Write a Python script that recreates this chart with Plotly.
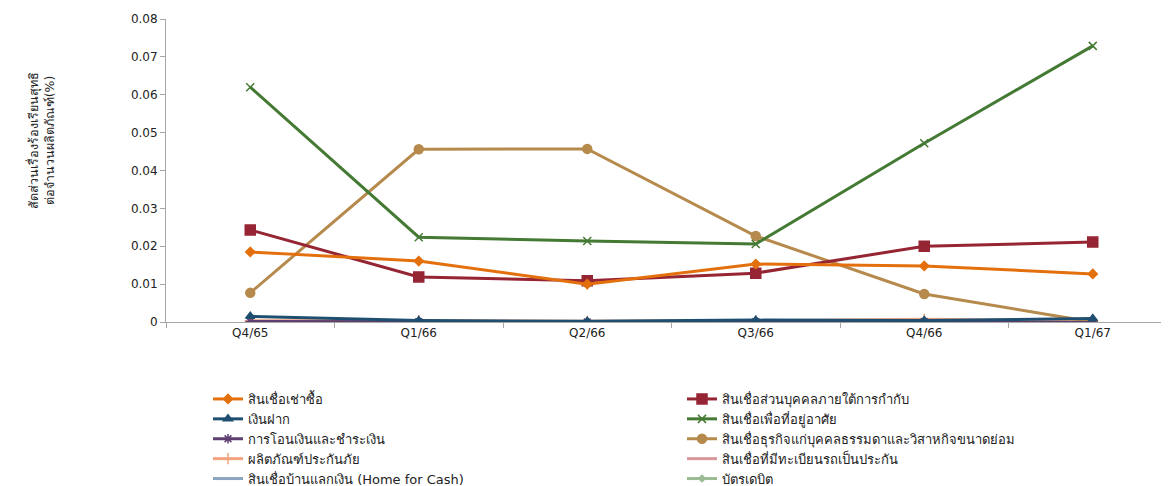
import plotly.graph_objects as go

categories = ["Q4/65", "Q1/66", "Q2/66", "Q3/66", "Q4/66", "Q1/67"]

hire_purchase = [0.0185, 0.0161, 0.0100, 0.0153, 0.0148, 0.0127]
personal_loan = [0.0243, 0.0119, 0.0109, 0.0129, 0.0200, 0.0211]
deposit = [0.0015, 0.0004, 0.0002, 0.0005, 0.0004, 0.0009]
housing = [0.0620, 0.0224, 0.0214, 0.0206, 0.0472, 0.0729]
transfer = [0.0001, 0.0001, 0.0000, 0.0001, 0.0001, 0.0000]
sme = [0.0077, 0.0456, 0.0457, 0.0227, 0.0074, 0.0000]
insurance = [0.0003, 0.0004, 0.0002, 0.0003, 0.0007, 0.0003]
car_title = [0.0000, 0.0000, 0.0000, 0.0000, 0.0000, 0.0000]
home_for_cash = [0.0000, 0.0000, 0.0000, 0.0000, 0.0000, 0.0000]
debit_card = [0.0000, 0.0000, 0.0000, 0.0000, 0.0000, 0.0000]

y_title = "สัดส่วนเรื่องร้องเรียนสุทธิ<br>ต่อจำนวนผลิตภัณฑ์(%)"

series = [
    ("สินเชื่อเช่าซื้อ", hire_purchase, "#E3700D", "diamond", 7),
    ("สินเชื่อส่วนบุคคลภายใต้การกำกับ", personal_loan, "#962534", "square", 10),
    ("เงินฝาก", deposit, "#1F4F70", "triangle-up", 8),
    ("สินเชื่อเพื่อที่อยู่อาศัย", housing, "#447A33", "x-thin-open", 8),
    ("การโอนเงินและชำระเงิน", transfer, "#5E3F70", "asterisk-open", 8),
    ("สินเชื่อธุรกิจแก่บุคคลธรรมดาและวิสาหกิจขนาดย่อม", sme, "#B68A4C", "circle", 9),
    ("ผลิตภัณฑ์ประกันภัย", insurance, "#F5A27F", "cross-thin-open", 8),
    ("สินเชื่อที่มีทะเบียนรถเป็นประกัน", car_title, "#D7979A", None, 0),
    ("สินเชื่อบ้านแลกเงิน (Home for Cash)", home_for_cash, "#8DA4BF", None, 0),
    ("บัตรเดบิต", debit_card, "#9BBB95", "diamond", 5),
]

traces = []
for name, vals, color, sym, size in series:
    if sym:
        traces.append(go.Scatter(
            x=categories, y=vals, name=name, mode="lines+markers",
            line=dict(color=color, width=3),
            marker=dict(symbol=sym, size=size, color=color,
                        line=dict(color=color, width=1.5)),
        ))
    else:
        traces.append(go.Scatter(
            x=categories, y=vals, name=name, mode="lines",
            line=dict(color=color, width=3),
        ))

# draw in reverse so the first series is on top like the reference
fig = go.Figure(data=list(reversed(traces)))

font_family = "Tahoma, DejaVu Sans, Noto Sans, sans-serif"
W, H = 1169, 486

fig.update_layout(
    width=W, height=H,
    paper_bgcolor="white", plot_bgcolor="white",
    margin=dict(l=158, r=0, t=11, b=172, autoexpand=False),
    font=dict(family=font_family, size=12, color="#222222"),
    showlegend=True,
    legend=dict(
        orientation="h", traceorder="reversed",
        x=200 / W, xref="container", y=1 - 376 / H, yref="container",
        xanchor="left", yanchor="top",
        entrywidth=429, entrywidthmode="pixels",
        itemwidth=30, tracegroupgap=0,
        font=dict(size=13, family=font_family, color="#222222"),
        bgcolor="rgba(0,0,0,0)",
    ),
    xaxis=dict(
        type="category", range=[-0.5, 5.5],
        showline=True, linecolor="#A6A6A6", linewidth=1,
        showgrid=False, zeroline=False,
        ticks="outside", ticklen=5, tickcolor="#A6A6A6",
        tickson="boundaries",
        tickfont=dict(size=12),
    ),
    yaxis=dict(
        range=[0, 0.08], dtick=0.01,
        showline=True, linecolor="#A6A6A6", linewidth=1,
        showgrid=False, zeroline=False,
        ticks="outside", ticklen=5, tickcolor="#A6A6A6",
        tickfont=dict(size=12),
    ),
    annotations=[dict(
        text=y_title, textangle=-90, showarrow=False,
        xref="paper", yref="paper",
        x=(33 - 158) / (W - 158), y=(314 - 133) / 303,
        xanchor="center", yanchor="middle",
        font=dict(size=12.5, family=font_family, color="#222222"),
    )],
)

fig.write_html("out.html")
